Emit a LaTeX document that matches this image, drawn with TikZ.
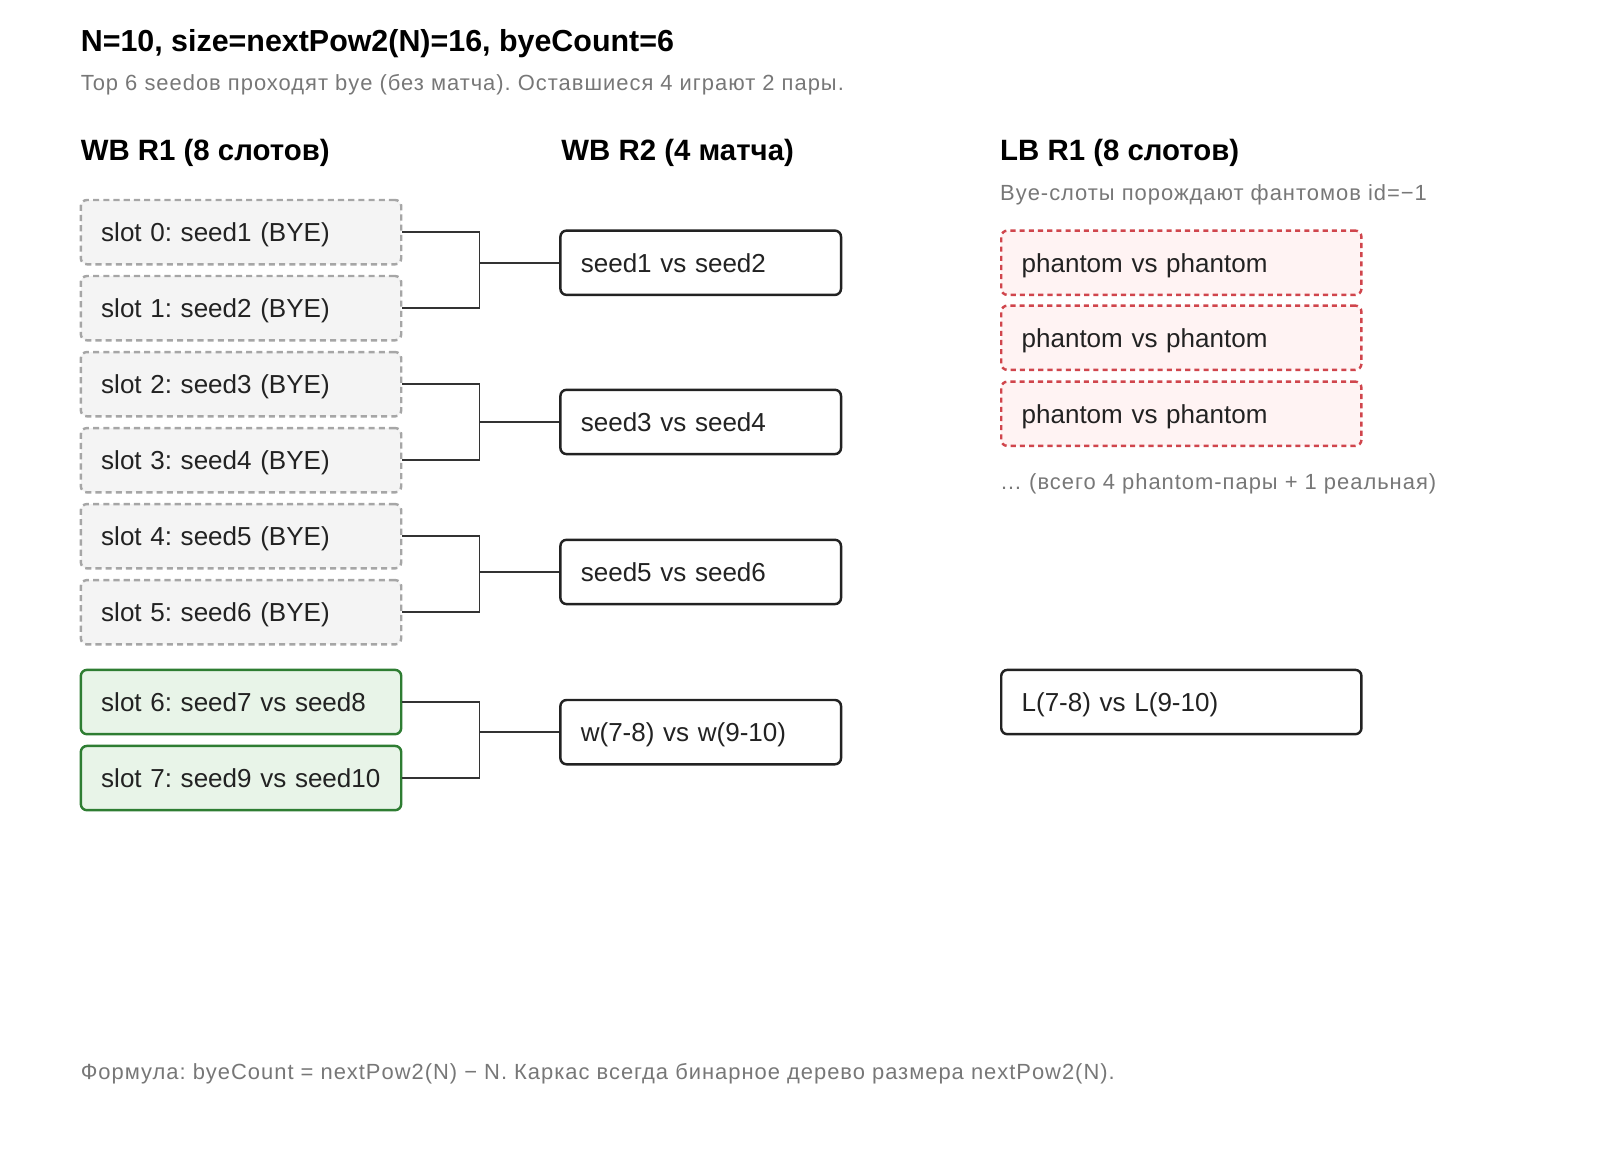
\documentclass[tikz,border=0pt]{standalone}
\usepackage{fontspec}
\setmainfont{Liberation Sans}
\newfontfamily\smallfont[LetterSpace=4.5]{Liberation Sans}
\frenchspacing
\definecolor{byefill}{HTML}{F4F4F4}
\definecolor{byedraw}{HTML}{A6A6A6}
\definecolor{greenfill}{HTML}{E8F4E8}
\definecolor{greendraw}{HTML}{2E7D32}
\definecolor{redfill}{HTML}{FFF3F3}
\definecolor{reddraw}{HTML}{D0454C}
\definecolor{txt}{HTML}{222222}
\definecolor{subtxt}{HTML}{777777}
\definecolor{linec}{HTML}{333333}
\begin{document}
\begin{tikzpicture}[x=1pt,y=-1pt,
  basebox/.style={rectangle, rounded corners=6pt, minimum height=63pt, inner xsep=20pt,
    text height=18.4pt, text depth=0pt,
    align=left, anchor=west, text=txt, font=\fontsize{25.5}{30}\selectfont, line width=2.4pt},
  slotw/.style={text width=274pt},
  matchw/.style={text width=235pt},
  lbw/.style={text width=313pt},
  byebox/.style={basebox, slotw, fill=byefill, draw=byedraw, dash pattern=on 6pt off 4pt},
  playbox/.style={basebox, slotw, fill=greenfill, draw=greendraw},
  matchbox/.style={basebox, matchw, fill=white, draw=txt},
  phantombox/.style={basebox, lbw, fill=redfill, draw=reddraw, dash pattern=on 5pt off 4pt},
  realbox/.style={basebox, lbw, fill=white, draw=txt},
  titletext/.style={anchor=base west, inner sep=0pt, font=\bfseries\fontsize{29.8}{33}\selectfont, text=black},
  headtext/.style={anchor=base west, inner sep=0pt, font=\bfseries\fontsize{28.8}{32}\selectfont, text=black},
  subtext/.style={anchor=base west, inner sep=0pt, font=\smallfont\fontsize{21.5}{25}\selectfont, text=subtxt},
  conn/.style={draw=linec, line width=1.5pt}
]
\useasboundingbox (0,0) rectangle (1568,1137);

% titles
\node[titletext] (title) at (79,50) {N=10, size=nextPow2(N)=16, byeCount=6};
\node[subtext] (sub) at (79,89) {Top 6 seedов проходят bye (без матча). Оставшиеся 4 играют 2 пары.};
\node[headtext] (h1) at (79,157) {WB R1 (8 слотов)};
\node[headtext] (h2) at (550,157) {WB R2 (4 матча)};
\node[headtext] (h3) at (980,157) {LB R1 (8 слотов)};
\node[subtext] (lbsub) at (980,196) {Bye-слоты порождают фантомов id=−1};

% WB R1 slots
\node[byebox] (s0) at (78,227.5) {slot 0: seed1 (BYE)};
\node[byebox] (s1) at (78,302) {slot 1: seed2 (BYE)};
\node[byebox] (s2) at (78,376.5) {slot 2: seed3 (BYE)};
\node[byebox] (s3) at (78,451) {slot 3: seed4 (BYE)};
\node[byebox] (s4) at (78,525.5) {slot 4: seed5 (BYE)};
\node[byebox] (s5) at (78,600) {slot 5: seed6 (BYE)};
\node[playbox] (s6) at (78,688) {\mbox{slot 6: seed7 vs seed8}};
\node[playbox] (s7) at (78,762.5) {\mbox{slot 7: seed9 vs seed10}};

% WB R2
\node[matchbox] (r0) at (548,257.5) {seed1 vs seed2};
\node[matchbox] (r1) at (548,413.5) {seed3 vs seed4};
\node[matchbox] (r2) at (548,560.5) {seed5 vs seed6};
\node[matchbox] (r3) at (548,717.5) {\mbox{w(7-8) vs w(9-10)}};

% LB R1
\node[phantombox] (l0) at (980,257.5) {phantom vs phantom};
\node[phantombox] (l1) at (980,331) {phantom vs phantom};
\node[phantombox] (l2) at (980,405.5) {phantom vs phantom};
\node[subtext] (lbnote) at (980,480) {… (всего 4 phantom-пары + 1 реальная)};
\node[realbox] (l3) at (980,688) {L(7-8) vs L(9-10)};

% footer
\node[subtext] (foot) at (79,1058) {Формула: byeCount = nextPow2(N) − N. Каркас всегда бинарное дерево размера nextPow2(N).};

% connectors
\coordinate (j0) at ([xshift=-78pt]r0.west);
\coordinate (j1) at ([xshift=-78pt]r1.west);
\coordinate (j2) at ([xshift=-78pt]r2.west);
\coordinate (j3) at ([xshift=-78pt]r3.west);
\draw[conn] (s0.east) -| (j0) |- (s1.east);
\draw[conn] (j0) -- (r0.west);
\draw[conn] (s2.east) -| (j1) |- (s3.east);
\draw[conn] (j1) -- (r1.west);
\draw[conn] (s4.east) -| (j2) |- (s5.east);
\draw[conn] (j2) -- (r2.west);
\draw[conn] (s6.east) -| (j3) |- (s7.east);
\draw[conn] (j3) -- (r3.west);
\end{tikzpicture}
\end{document}
